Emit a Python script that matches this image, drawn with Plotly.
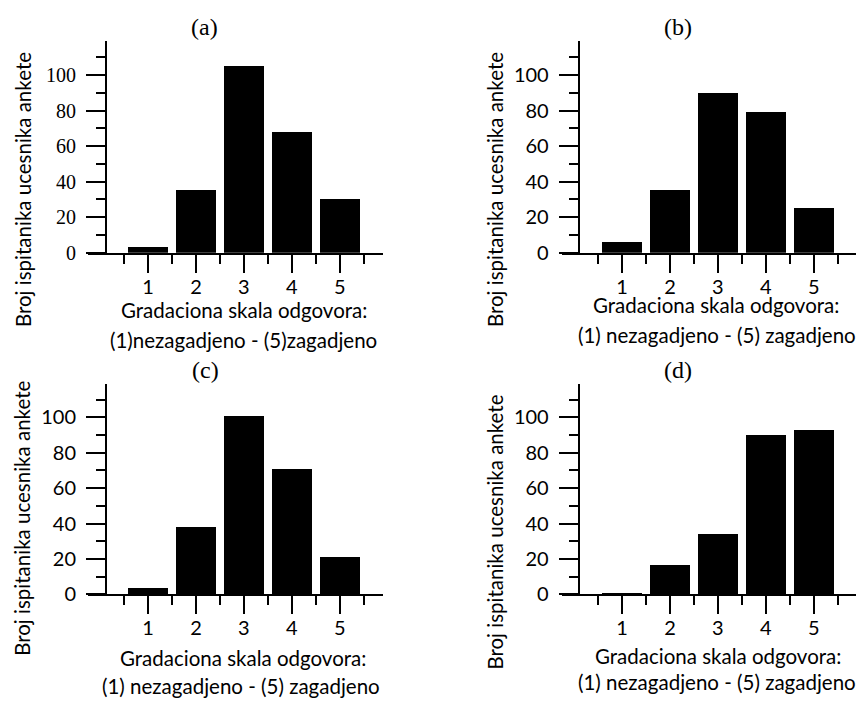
import plotly.graph_objects as go

# ---- data ----
categories = [1, 2, 3, 4, 5]
values_a = [3, 35, 105, 68, 30]
values_b = [6, 35, 90, 79, 25]
values_c = [4, 38, 101, 71, 21]
values_d = [1, 17, 34, 90, 93]
panel_labels = ["(a)", "(b)", "(c)", "(d)"]
y_tick_vals = [0, 20, 40, 60, 80, 100]
y_minor_vals = [10, 30, 50, 70, 90, 110]
y_axis_title = "Broj ispitanika ucesnika ankete"
x_title_line1 = "Gradaciona skala odgovora:"
x_title_line2 = ["(1)nezagadjeno - (5)zagadjeno",
                 "(1) nezagadjeno - (5) zagadjeno",
                 "(1) nezagadjeno - (5) zagadjeno",
                 "(1) nezagadjeno - (5) zagadjeno"]
all_values = [values_a, values_b, values_c, values_d]

OFF = 8  # page body margin
W, H = 864 - OFF, 706 - OFF
SANS = "Lato"
SERIF = "Liberation Serif"


def px(x):
    return (x - OFF) / W


def py(y):
    return 1 - (y - OFF) / H


# layout geometry in window pixels
geo = [
    dict(x0=88, x1=383, yb=256.7, yt=41.7, ya=106, ttl=(204.5, 27.5), ytl=(23, 193), l1=(243.5, 315), l2=(243.5, 345)),
    dict(x0=562, x1=857, yb=256.7, yt=41.7, ya=578.7, ttl=(678, 27.5), ytl=(495, 193), l1=(716, 310), l2=(716.5, 340)),
    dict(x0=88, x1=383, yb=603.7, yt=389.7, ya=106, ttl=(205, 375.5), ytl=(22, 527), l1=(243, 668), l2=(240.5, 697)),
    dict(x0=562, x1=857, yb=603.7, yt=389.7, ya=578.7, ttl=(678, 376), ytl=(495, 541), l1=(718, 666), l2=(717, 693)),
]

fig = go.Figure()
annotations = []
layout = dict(width=W, height=H, margin=dict(l=0, r=0, t=0, b=0),
              paper_bgcolor="white", plot_bgcolor="white", showlegend=False,
              bargap=0)

x_minor = [c - 0.5 for c in categories] + [categories[-1] + 0.5]

for i, g in enumerate(geo):
    n = "" if i == 0 else str(i + 1)
    fig.add_trace(go.Bar(x=categories, y=all_values[i], width=0.84,
                         marker=dict(color="black", line=dict(width=0)),
                         xaxis="x" + n, yaxis="y" + n))
    layout["xaxis" + n] = dict(
        domain=[px(g["x0"]), px(g["x1"])], range=[-0.25, 5.9], anchor="y" + n,
        tickmode="array", tickvals=categories, ticks="outside", ticklen=18, tickwidth=2,
        tickcolor="black", showline=True, linewidth=2, linecolor="black",
        showgrid=False, zeroline=False, ticklabelstandoff=-3,
        tickfont=dict(family=SANS, size=20, color="black"),
        minor=dict(tickmode="array", tickvals=x_minor, ticks="outside", ticklen=9,
                   tickwidth=2, tickcolor="black", showgrid=False),
        fixedrange=True,
    )
    layout["yaxis" + n] = dict(
        domain=[py(g["yb"]), py(g["yt"])], range=[0, 119], anchor="free",
        position=px(g["ya"]),
        tickmode="array", tickvals=y_tick_vals, ticks="outside", ticklen=19, tickwidth=2,
        tickcolor="black", showline=True, linewidth=2, linecolor="black",
        showgrid=False, zeroline=False, ticklabelstandoff=6,
        tickfont=dict(family=SERIF if i == 0 else SANS, size=20, color="black"),
        minor=dict(tickmode="array", tickvals=y_minor_vals, ticks="outside", ticklen=9,
                   tickwidth=2, tickcolor="black", showgrid=False),
        fixedrange=True,
    )
    annotations.append(dict(text=panel_labels[i], x=px(g["ttl"][0]), y=py(g["ttl"][1]),
                            xref="paper", yref="paper", showarrow=False,
                            xanchor="center", yanchor="middle",
                            font=dict(family=SERIF, size=24, color="black")))
    annotations.append(dict(text=y_axis_title, x=px(g["ytl"][0]), y=py(g["ytl"][1]),
                            xref="paper", yref="paper", showarrow=False, textangle=-90,
                            xanchor="center", yanchor="middle",
                            font=dict(family=SANS, size=20.5, color="black")))
    annotations.append(dict(text=x_title_line1, x=px(g["l1"][0]), y=py(g["l1"][1]),
                            xref="paper", yref="paper", showarrow=False,
                            xanchor="center", yanchor="middle",
                            font=dict(family=SANS, size=20.5, color="black")))
    annotations.append(dict(text=x_title_line2[i], x=px(g["l2"][0]), y=py(g["l2"][1]),
                            xref="paper", yref="paper", showarrow=False,
                            xanchor="center", yanchor="middle",
                            font=dict(family=SANS, size=20.5, color="black")))

layout["annotations"] = annotations
fig.update_layout(**layout)
fig.write_html("out.html")
